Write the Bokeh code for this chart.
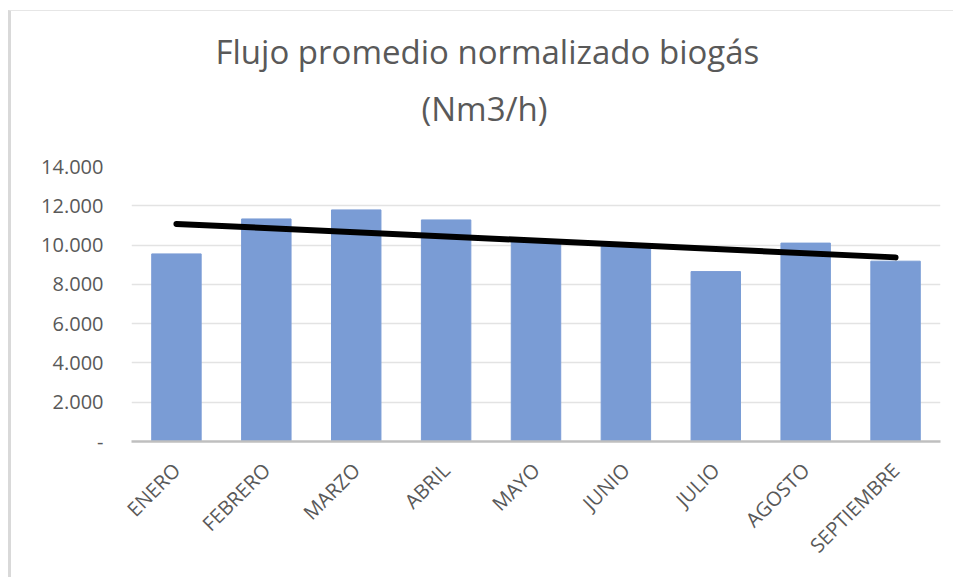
import numpy as np
from math import pi
from bokeh.plotting import figure
from bokeh.models import Range1d, FixedTicker, Title, FactorRange
from bokeh.embed import file_html
from bokeh.resources import INLINE

months = ["ENERO", "FEBRERO", "MARZO", "ABRIL", "MAYO", "JUNIO", "JULIO", "AGOSTO", "SEPTIEMBRE"]
flow = [9550, 11330, 11790, 11280, 10200, 9950, 8650, 10100, 9180]
y_ticks = [0, 2000, 4000, 6000, 8000, 10000, 12000, 14000]
y_tick_labels = ["-", "2.000", "4.000", "6.000", "8.000", "10.000", "12.000", "14.000"]
title_lines = ["Flujo promedio normalizado biogás", "(Nm3/h)"]

# linear trend line (least squares over the bars)
idx = np.arange(len(flow))
slope, intercept = np.polyfit(idx, flow, 1)
trend_y = [intercept + slope * idx[0], intercept + slope * idx[-1]]
trend_x = [months[0], months[-1]]

FONT = "Open Sans"
GRAY = "#595959"

p = figure(
    x_range=FactorRange(*months, range_padding=0),
    y_range=Range1d(0, 14000),
    width=945, height=567,
    output_backend="svg", toolbar_location=None,
    min_border_left=120, min_border_right=16,
    min_border_top=155, min_border_bottom=137,
    styles={"margin-left": "8px", "margin-top": "10px",
            "border-left": "3px solid #d9d9d9", "border-top": "1px solid #e6e6e6"},
)
p.outline_line_color = None
p.background_fill_color = "white"
p.border_fill_color = "white"

p.vbar(x=months, top=flow, width=0.55, color="#7a9cd5")
p.line(x=trend_x, y=trend_y, line_color="black", line_width=6, line_cap="round")

# y axis
p.yaxis.ticker = FixedTicker(ticks=y_ticks)
p.yaxis.major_label_overrides = {t: l for t, l in zip(y_ticks, y_tick_labels)}
p.yaxis.axis_line_color = None
p.yaxis.major_tick_line_color = None
p.yaxis.minor_tick_line_color = None
p.yaxis.major_tick_out = 0
p.yaxis.major_tick_in = 0
p.yaxis.major_label_standoff = 28
p.yaxis.major_label_text_font = FONT
p.yaxis.major_label_text_font_size = "20px"
p.yaxis.major_label_text_color = GRAY

# x axis
p.xaxis.axis_line_color = "#bfbfbf"
p.xaxis.axis_line_width = 2.5
p.xaxis.major_tick_line_color = None
p.xaxis.minor_tick_line_color = None
p.xaxis.major_tick_out = 0
p.xaxis.major_tick_in = 0
p.xaxis.major_label_orientation = pi / 4
p.xaxis.major_label_standoff = 25
p.xaxis.major_label_text_font = FONT
p.xaxis.major_label_text_font_size = "20px"
p.xaxis.major_label_text_color = GRAY

# grid
p.xgrid.grid_line_color = None
p.ygrid.grid_line_color = "#e3e3e3"
p.ygrid.grid_line_width = 1.5

# title: spacer, then second line, then first line (stacked outward)
def make_title(text, size, offset):
    return Title(text=text, align="left", offset=offset, text_font=FONT,
                 text_font_size=size, text_font_style="normal", text_color=GRAY)

p.add_layout(make_title(" ", "14px", 0), "above")
p.add_layout(make_title(title_lines[1], "33px", 290), "above")
p.add_layout(make_title(title_lines[0], "33px", 84), "above")

open("out.html", "w").write(file_html(p, INLINE))
